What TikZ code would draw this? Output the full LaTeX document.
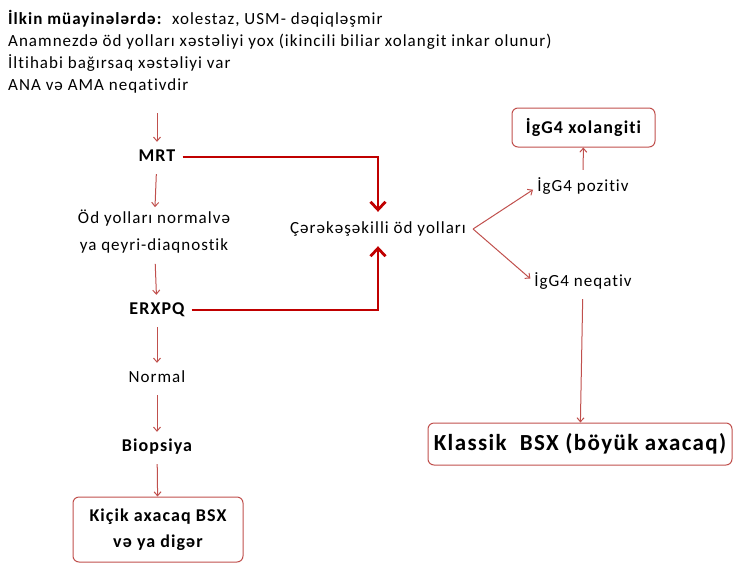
\documentclass[tikz,border=0pt]{standalone}
\usepackage{fontspec}
\setmainfont{Carlito}[LetterSpace=6, Ligatures=NoCommon]
\usetikzlibrary{arrows.meta, positioning}

\definecolor{thinred}{HTML}{C0504D}
\definecolor{thickred}{HTML}{C00000}
\definecolor{boxred}{HTML}{C0504D}

\begin{document}
\begin{tikzpicture}[
    x=1pt, y=-1pt,
    >=Straight Barb, % Default arrow tip
    txt/.style={inner sep=0pt, text height=11pt, text depth=3pt, font=\fontsize{17}{22}\selectfont}, % Plain text nodes
    boldtxt/.style={txt, font=\fontsize{18}{22}\selectfont\bfseries}, % Bold step labels
    box/.style={draw=boxred, line width=1pt, rounded corners=6pt, align=center, inner sep=0pt, font=\fontsize{18}{26}\selectfont\bfseries}, % Result boxes
    thinarrow/.style={-{Straight Barb[length=4pt, width=7pt]}, thinred, line width=1pt, shorten <=10pt, shorten >=8pt}, % Thin flow arrows
    thickarrow/.style={-{Straight Barb[length=8pt, width=15pt]}, thickred, line width=2.8pt, shorten <=7pt, shorten >=10pt} % Thick arrows
]
    \useasboundingbox (0,0) rectangle (734,563);

    % --- Header ---
    \node[inner sep=0pt, anchor=north west, align=left, font=\fontsize{17}{22}\selectfont] (header) at (8,10)
        {\textbf{İlkin müayinələrdə:}\ \ xolestaz, USM- dəqiqləşmir\\
         Anamnezdə öd yolları xəstəliyi yox (ikincili biliar xolangit inkar olunur)\\
         İltihabi bağırsaq xəstəliyi var\\
         ANA və AMA neqativdir};
    \coordinate (start) at (157,113);

    % --- Left column ---
    \node[boldtxt] (mrt) at (157,157) {MRT};
    \node[inner sep=0pt, align=center, font=\fontsize{17}{27}\selectfont] (normalve) at (154,232)
        {Öd yolları normalvə\\ya qeyri-diaqnostik};
    \node[boldtxt] (erxpq) at (157,310) {ERXPQ};
    \node[txt] (normal) at (157,378) {Normal};
    \node[boldtxt] (biopsiya) at (157,447) {Biopsiya};
    \node[box, minimum width=170pt, minimum height=65pt] (kicik) at (158,529.5)
        {Kiçik axacaq BSX\\və ya digər};

    % --- Right part ---
    \node[txt] (cholang) at (378,229) {Çərəkəşəkilli öd yolları};
    \coordinate (fork) at ([xshift=7pt]cholang.east);
    \node[txt] (poz) at (583,187) {İgG4 pozitiv};
    \node[txt] (neq) at (583,282) {İgG4 neqativ};
    \node[box, minimum width=143pt, minimum height=39pt] (xol) at (583.5,127.5) {İgG4 xolangiti};
    \node[box, minimum width=304pt, minimum height=42pt, font=\fontsize{23}{26}\selectfont\bfseries] (klassik) at (580,444)
        {Klassik\ \ BSX (böyük axacaq)};

    % --- Thin arrows ---
    \draw[thinarrow, shorten <=0pt] (start) -- (mrt);
    \draw[thinarrow, shorten >=3pt] (mrt) -- (normalve);
    \draw[thinarrow] (normalve) -- (erxpq);
    \draw[thinarrow] (erxpq) -- (normal);
    \draw[thinarrow] (normal) -- (biopsiya);
    \draw[thinarrow, shorten >=0pt] (biopsiya) -- (kicik);
    \draw[thinarrow, shorten <=0pt, shorten >=5pt] (fork) -- (poz.west);
    \draw[thinarrow, shorten <=0pt, shorten >=5pt] (fork) -- (neq.west);
    \draw[thinarrow, shorten >=0pt] (poz) -- (xol);
    \draw[thinarrow, shorten >=0pt] (neq) -- (klassik);

    % --- Thick arrows ---
    \draw[thickarrow] (mrt.east) -| (cholang.north);
    \draw[thickarrow] (erxpq.east) -| (cholang.south);
\end{tikzpicture}
\end{document}
